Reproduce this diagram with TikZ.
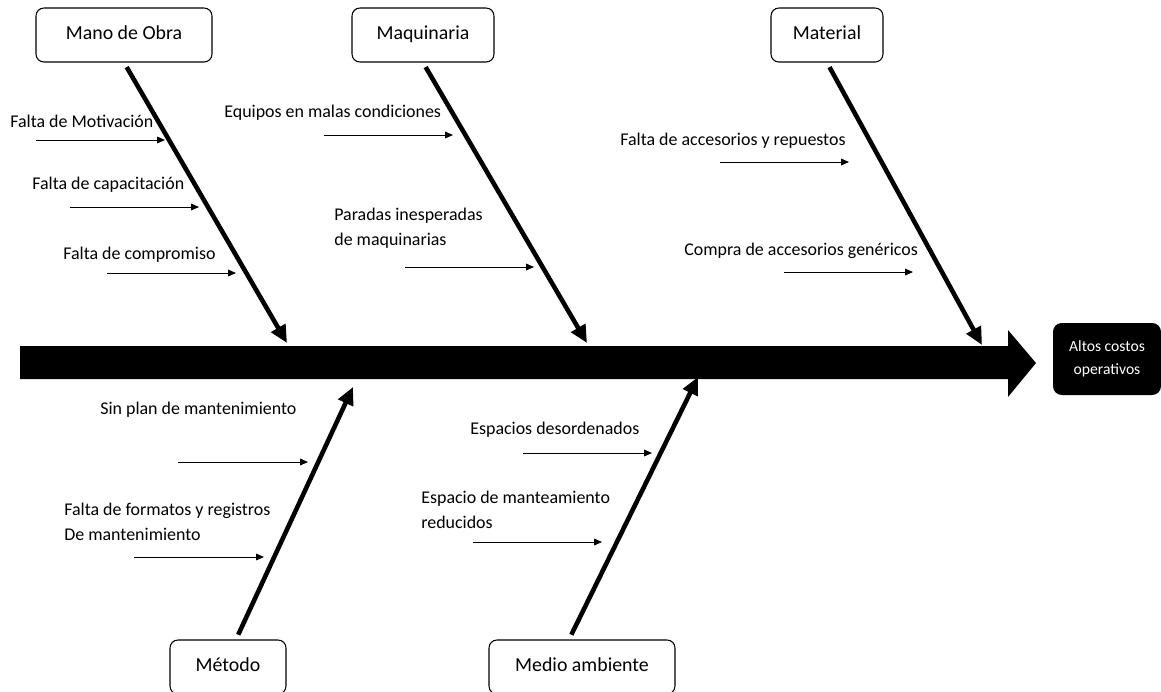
\documentclass[tikz,border=0pt]{standalone}
\usepackage{fontspec}
\setmainfont{Carlito}
\usetikzlibrary{arrows.meta, calc}

\begin{document}
\begin{tikzpicture}[x=0.02cm, y=-0.02cm, >={Triangle[length=4.5pt,width=3.8pt]},
  categoria/.style={draw, rounded corners=4.5pt, line width=0.6pt, minimum height=1.08cm, text height=0.72em, text depth=0.22em, font=\fontsize{11.3}{13}\selectfont},
  efecto/.style={fill=black, text=white, rounded corners=5pt, minimum width=2.16cm, minimum height=1.44cm, align=center, font=\fontsize{8.9}{13}\selectfont},
  espina/.style={-{Triangle[length=10pt,width=9pt]}, line width=2.6pt, shorten <=3pt},
  causa/.style={->, line width=0.55pt},
  etiqueta/.style={anchor=west, inner sep=0pt, align=left, font=\fontsize{10.2}{14.2}\selectfont}]
\clip (0,0) rectangle (1161,691);
\fill[white] (0,0) rectangle (1161,691);
% espina principal
\fill (20,346) -- (1008,346) -- (1008,330) -- (1036,363) -- (1008,397) -- (1008,379) -- (20,379) -- cycle;
\node[efecto] (efecto) at (1107,359) {Altos costos\\operativos};
% categorias
\node[categoria, minimum width=3.52cm] (mano) at (124,35) {Mano de Obra};
\node[categoria, minimum width=2.84cm] (maq) at (423,35) {Maquinaria};
\node[categoria, minimum width=2.24cm] (mat) at (827,35) {Material};
\node[categoria, minimum width=2.32cm] (metodo) at (228,667) {Método};
\node[categoria, minimum width=3.72cm] (medio) at (582,667) {Medio ambiente};
% espinas
\coordinate (t-mano) at (287,343);
\coordinate (t-maq) at (587,343);
\coordinate (t-mat) at (982,345);
\coordinate (t-metodo) at (353,387);
\coordinate (t-medio) at (698,377);
\draw[espina] (mano.south) -- (t-mano);
\draw[espina] (maq.south) -- (t-maq);
\draw[espina] (mat.south) -- (t-mat);
\draw[espina] ([xshift=0.16cm]metodo.north) -- (t-metodo);
\draw[espina] ([xshift=-0.26cm]medio.north) -- (t-medio);
% Mano de Obra
\node[etiqueta] (m1) at (10,121) {Falta de Motivación};
\node[etiqueta] (m2) at (32,185) {Falta de capacitación};
\node[etiqueta] (m3) at (63,255) {Falta de compromiso};
\coordinate (a-m1) at (36,140);
\coordinate (a-m2) at (70,207);
\coordinate (a-m3) at (107,273);
\draw[causa] (a-m1) -- +(129,0);
\draw[causa] (a-m2) -- +(129,0);
\draw[causa] (a-m3) -- +(129,0);
% Maquinaria
\node[etiqueta] (q1) at (224,113) {Equipos en malas condiciones};
\node[etiqueta] (q2) at (334,228) {Paradas inesperadas\\de maquinarias};
\coordinate (a-q1) at (324,135);
\coordinate (a-q2) at (405,267);
\draw[causa] (a-q1) -- +(129,0);
\draw[causa] (a-q2) -- +(129,0);
% Material
\node[etiqueta] (t1) at (620,141) {Falta de accesorios y repuestos};
\node[etiqueta] (t2) at (684,251) {Compra de accesorios genéricos};
\coordinate (a-t1) at (720,162);
\coordinate (a-t2) at (784,272);
\draw[causa] (a-t1) -- +(129,0);
\draw[causa] (a-t2) -- +(129,0);
% Metodo
\node[etiqueta] (d1) at (100,410) {Sin plan de mantenimiento};
\node[etiqueta] (d2) at (64,522) {Falta de formatos y registros\\De mantenimiento};
\coordinate (a-d1) at (178,462);
\coordinate (a-d2) at (134,557);
\draw[causa] (a-d1) -- +(130,0);
\draw[causa] (a-d2) -- +(130,0);
% Medio ambiente
\node[etiqueta] (e1) at (470,430) {Espacios desordenados};
\node[etiqueta] (e2) at (421,510) {Espacio de manteamiento\\reducidos};
\coordinate (a-e1) at (523,453);
\coordinate (a-e2) at (473,542);
\draw[causa] (a-e1) -- +(129,0);
\draw[causa] (a-e2) -- +(129,0);
\end{tikzpicture}
\end{document}
